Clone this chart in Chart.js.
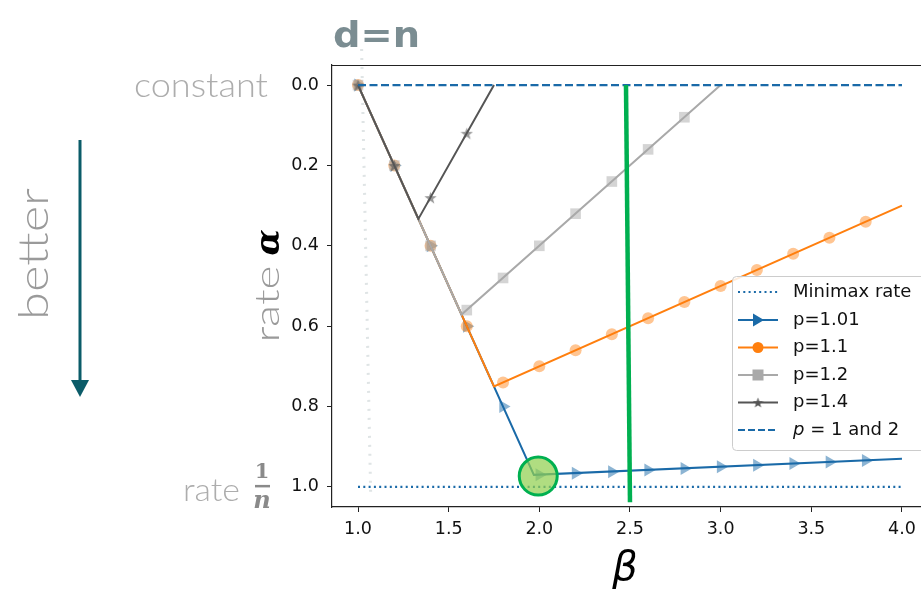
<!DOCTYPE html>
<html><head><meta charset="utf-8">
<script src="https://cdn.jsdelivr.net/npm/chart.js@4.4.0/dist/chart.umd.min.js"></script>
<style>html,body{margin:0;padding:0;background:#fff;overflow:hidden}</style>
</head><body>
<canvas id="c" width="921" height="590" style="display:block;width:921px;height:590px"></canvas>
<script>
// ---------------- data ----------------
const xTicks = [1.0, 1.5, 2.0, 2.5, 3.0, 3.5, 4.0];
const yTicks = [0.0, 0.2, 0.4, 0.6, 0.8, 1.0];
const seriesNames = ['Minimax rate', 'p=1.01', 'p=1.1', 'p=1.2', 'p=1.4', 'p = 1 and 2'];

const markerBeta = [1.0, 1.2, 1.4, 1.6, 1.8, 2.0, 2.2, 2.4, 2.6, 2.8, 3.0, 3.2, 3.4, 3.6, 3.8];

const p101LineBeta  = [1.0, 1.97, 4.0];
const p101LineAlpha = [0.0, 0.97, 0.93];
const p101MarkAlpha = [0.0, 0.2, 0.4, 0.6, 0.8, 0.97, 0.966, 0.962, 0.958, 0.954, 0.95, 0.946, 0.942, 0.938, 0.934];

const p11LineBeta  = [1.0, 1.75, 4.0];
const p11LineAlpha = [0.0, 0.75, 0.30];
const p11MarkAlpha = [0.0, 0.2, 0.4, 0.6, 0.74, 0.70, 0.66, 0.62, 0.58, 0.54, 0.50, 0.46, 0.42, 0.38, 0.34];

const p12LineBeta  = [1.0, 1.571, 3.0];
const p12LineAlpha = [0.0, 0.571, 0.0];
const p12MarkAlpha = [0.0, 0.2, 0.4, 0.56, 0.48, 0.40, 0.32, 0.24, 0.16, 0.08];

const p14LineBeta  = [1.0, 1.333, 1.75];
const p14LineAlpha = [0.0, 0.333, 0.0];
const p14MarkAlpha = [0.0, 0.2, 0.28, 0.12];

const minimaxBeta  = [1.0, 4.0];
const minimaxAlpha = [1.0, 1.0];
const p1and2Beta   = [1.0, 4.0];
const p1and2Alpha  = [0.0, 0.0];

const greenLineBeta  = [2.478, 2.50];
const greenLineAlpha = [0.0, 1.038];
const highlightBeta  = [1.994];
const highlightAlpha = [0.973];
const pencilBeta  = [1.02, 1.07];
const pencilAlpha = [-0.09, 1.02];

// ---------------- styles ----------------
const BLUE = '#1a6aa8', ORANGE = '#ff7f0e', GRAY = '#a9a9a9', DARK = '#555555';
const pts = (xs, ys) => ys.map((y, i) => ({x: xs[i], y}));

function starCanvas(size, color) {
  const c = document.createElement('canvas');
  c.width = c.height = size;
  const g = c.getContext('2d');
  g.fillStyle = color;
  g.beginPath();
  for (let i = 0; i < 10; i++) {
    const r = i % 2 ? size * 0.2 : size * 0.5;
    const a = -Math.PI / 2 + i * Math.PI / 5;
    g.lineTo(size / 2 + r * Math.cos(a), size / 2 + r * Math.sin(a) + size * 0.05);
  }
  g.closePath(); g.fill();
  return c;
}
const starPlot = starCanvas(13, 'rgba(85,85,85,0.6)');
const starLegend = starCanvas(11, DARK);

function lineDs(xs, ys, color, order, extra) {
  return Object.assign({data: pts(xs, ys), showLine: true, borderColor: color, backgroundColor: color,
    borderWidth: 2, pointRadius: 0, order: order, clip: false}, extra || {});
}
function markDs(ys, color, style, radius, order, extra) {
  return Object.assign({data: pts(markerBeta, ys), showLine: false, backgroundColor: color,
    borderWidth: 0, pointStyle: style, pointRadius: radius, order: order}, extra || {});
}

// draw text with given font size, horizontally stretched to a target width
function stretchText(g, text, font, x, y, targetW, align) {
  g.font = font;
  const w = g.measureText(text).width;
  const sx = targetW / w;
  g.save();
  g.translate(x, y);
  g.scale(sx, 1);
  g.textAlign = 'left';
  let ox = 0;
  if (align === 'right') ox = -w;
  else if (align === 'center') ox = -w / 2;
  g.fillText(text, ox, 0);
  g.restore();
}

// ---------------- annotation + legend plugin ----------------
const annot = {
  id: 'annot',
  afterDraw(chart) {
    const g = chart.ctx, xs = chart.scales.x, ys = chart.scales.y, ca = chart.chartArea;
    g.save();
    g.textBaseline = 'alphabetic';
    // top spine
    g.strokeStyle = '#222'; g.lineWidth = 1.2;
    g.beginPath(); g.moveTo(ca.left, ca.top + 0.5); g.lineTo(ca.right, ca.top + 0.5); g.stroke();

    const y0 = ys.getPixelForValue(0), y1 = ys.getPixelForValue(1);
    // "constant"
    g.fillStyle = '#adadad';
    stretchText(g, 'constant', '300 33px Lato', 268, y0 + 12, 134, 'right');

    // "rate 1/n"
    stretchText(g, 'rate', '300 32px Lato', 240, y1 + 14, 57, 'right');
    g.fillStyle = '#8a8a8a'; g.textAlign = 'center';
    g.font = 'bold 21px "DejaVu Serif"';
    g.fillText('1', 262, y1 - 9);
    g.fillRect(255, y1 - 2, 15, 2.5);
    g.font = 'italic bold 24px "DejaVu Serif"';
    g.fillText('n', 262, y1 + 21);

    // "better" + arrow
    g.save();
    g.translate(48, 254); g.rotate(-Math.PI / 2);
    g.fillStyle = '#9a9a9a';
    stretchText(g, 'better', '300 41px Lato', 0, 0, 132, 'center');
    g.restore();
    g.strokeStyle = '#0b5c69'; g.fillStyle = '#0b5c69'; g.lineWidth = 3;
    g.beginPath(); g.moveTo(80, 140); g.lineTo(80, 382); g.stroke();
    g.beginPath(); g.moveTo(71, 380); g.lineTo(89, 380); g.lineTo(80, 397); g.closePath(); g.fill();

    // y-axis title "rate α"
    g.save();
    g.translate(279, 286); g.rotate(-Math.PI / 2);
    g.font = 'italic bold 34px "DejaVu Serif"';
    const wA = g.measureText('α').width;
    const wR = 77, gap = 10;
    const start = -(wR + gap + wA) / 2;
    g.fillStyle = '#9a9a9a';
    stretchText(g, 'rate', '300 33px Lato', start, 0, wR, 'left');
    g.font = 'italic bold 34px "DejaVu Serif"'; g.fillStyle = '#000'; g.textAlign = 'left';
    g.fillText('α', start + wR + gap, 0);
    g.restore();

    // x-axis title β
    g.font = 'italic 40px "DejaVu Sans"'; g.fillStyle = '#000'; g.textAlign = 'center';
    g.fillText('β', 625, 580);

    // "d=n" handwritten note
    g.fillStyle = '#7b8d92';
    stretchText(g, 'd=n', 'bold 36px "DejaVu Sans"', 333, 47, 87, 'left');

    // legend
    const L = {x: 732, y: 276, w: 200, h: 174};
    g.beginPath();
    g.roundRect(L.x + 0.5, L.y + 0.5, L.w, L.h, 4);
    g.fillStyle = 'rgba(255,255,255,0.85)'; g.fill();
    g.strokeStyle = '#cccccc'; g.lineWidth = 1; g.stroke();
    const entries = [
      {color: BLUE, dash: [2, 3.3], marker: null},
      {color: BLUE, dash: [], marker: 'tri'},
      {color: ORANGE, dash: [], marker: 'circle'},
      {color: GRAY, dash: [], marker: 'rect'},
      {color: DARK, dash: [], marker: 'star'},
      {color: BLUE, dash: [7, 3], marker: null, italicP: true}
    ];
    const rowY = [292, 320, 347.5, 375, 402.5, 430];
    entries.forEach((e, i) => {
      const cy = rowY[i];
      g.strokeStyle = e.color; g.lineWidth = 2; g.setLineDash(e.dash);
      g.beginPath(); g.moveTo(738, cy); g.lineTo(778, cy); g.stroke();
      g.setLineDash([]);
      g.fillStyle = e.color;
      if (e.marker === 'tri') {
        g.beginPath(); g.moveTo(764, cy); g.lineTo(753, cy - 6.5); g.lineTo(753, cy + 6.5); g.closePath(); g.fill();
      } else if (e.marker === 'circle') {
        g.beginPath(); g.arc(758, cy, 5.5, 0, Math.PI * 2); g.fill();
      } else if (e.marker === 'rect') {
        g.fillRect(752.5, cy - 5.5, 11, 11);
      } else if (e.marker === 'star') {
        g.drawImage(starLegend, 758 - starLegend.width / 2, cy - starLegend.height / 2);
      }
      g.fillStyle = '#111'; g.textAlign = 'left'; g.textBaseline = 'middle';
      if (e.italicP) {
        g.font = 'italic 18px "DejaVu Sans"';
        g.fillText('p', 793, cy);
        const wp = g.measureText('p').width;
        g.font = '18px "DejaVu Sans"';
        g.fillText(seriesNames[i].slice(1), 793 + wp, cy);
      } else {
        g.font = '18px "DejaVu Sans"';
        g.fillText(seriesNames[i], 793, cy);
      }
    });
    g.restore();
  }
};

// ---------------- chart ----------------
const datasets = [
  {data: pts(highlightBeta, highlightAlpha), showLine: false, pointRadius: 19,
   backgroundColor: 'rgba(146,208,80,0.72)', borderColor: '#00b050', borderWidth: 3, order: 0, clip: false},
  lineDs(greenLineBeta, greenLineAlpha, '#00b050', 1, {borderWidth: 4.5}),
  lineDs(p1and2Beta, p1and2Alpha, BLUE, 3, {borderDash: [8, 3.5], borderWidth: 2.2}),
  markDs(p14MarkAlpha, 'rgba(85,85,85,0.6)', starPlot, 6, 4),
  lineDs(p14LineBeta, p14LineAlpha, DARK, 5),
  markDs(p12MarkAlpha, 'rgba(170,170,170,0.5)', 'rect', 7.5, 6),
  lineDs(p12LineBeta, p12LineAlpha, GRAY, 7),
  markDs(p11MarkAlpha, 'rgba(255,127,14,0.45)', 'circle', 6, 8),
  lineDs(p11LineBeta, p11LineAlpha, ORANGE, 9),
  markDs(p101MarkAlpha, 'rgba(26,106,168,0.5)', 'triangle', 7.5, 10, {pointRotation: 90}),
  lineDs(p101LineBeta, p101LineAlpha, BLUE, 11),
  lineDs(minimaxBeta, minimaxAlpha, BLUE, 12, {borderDash: [2, 3.3], borderWidth: 2.2}),
  lineDs(pencilBeta, pencilAlpha, 'rgba(150,165,170,0.3)', 13, {borderDash: [2, 7], borderWidth: 3})
];
datasets.forEach(d => { d.pointHoverRadius = d.pointRadius; });

new Chart(document.getElementById('c'), {
  type: 'scatter',
  data: {datasets},
  options: {
    responsive: false, animation: false, events: [],
    layout: {autoPadding: false, padding: {top: 65, left: 0, right: 0, bottom: 0}},
    plugins: {legend: {display: false}, tooltip: {enabled: false}},
    scales: {
      x: {
        type: 'linear', position: 'bottom', min: 0.8566, max: 4.105,
        afterBuildTicks: s => { s.ticks = xTicks.map(v => ({value: v})); },
        afterFit: s => { s.height = 83; s.paddingLeft = 0; s.paddingRight = 0; },
        grid: {display: true, drawOnChartArea: false, drawTicks: true, tickLength: 5, color: '#222', lineWidth: 1},
        border: {display: true, color: '#222', width: 1.2},
        ticks: {autoSkip: false, maxRotation: 0, padding: 7, color: '#111',
          font: {family: 'DejaVu Sans', size: 17.5}, callback: v => Number(v).toFixed(1)}
      },
      y: {
        type: 'linear', reverse: true, min: -0.05, max: 1.05,
        afterBuildTicks: s => { s.ticks = yTicks.map(v => ({value: v})); },
        afterFit: s => { s.width = 332; s.paddingTop = 0; s.paddingBottom = 0; },
        grid: {display: true, drawOnChartArea: false, drawTicks: true, tickLength: 5, color: '#222', lineWidth: 1},
        border: {display: true, color: '#222', width: 1.2},
        ticks: {padding: 8, color: '#111',
          font: {family: 'DejaVu Sans', size: 17.5}, callback: v => Number(v).toFixed(1)}
      }
    }
  },
  plugins: [annot]
});
</script>
</body></html>
